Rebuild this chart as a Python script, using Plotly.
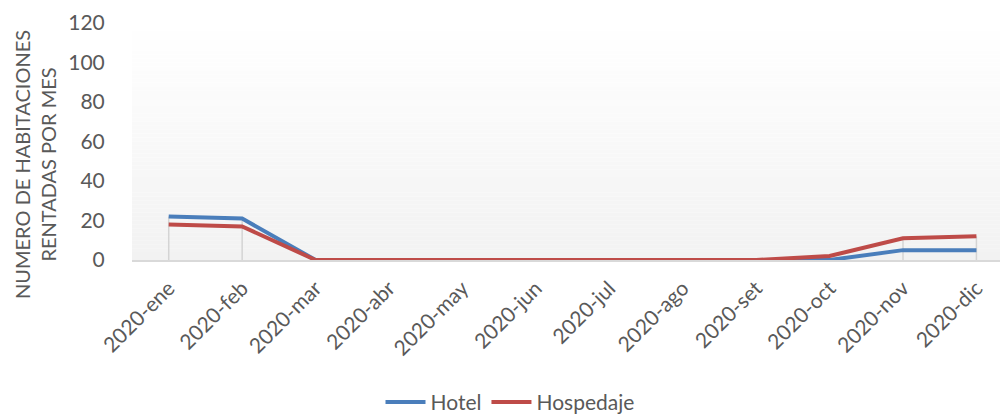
import plotly.graph_objects as go

meses = ["2020-ene", "2020-feb", "2020-mar", "2020-abr", "2020-may", "2020-jun",
         "2020-jul", "2020-ago", "2020-set", "2020-oct", "2020-nov", "2020-dic"]
hotel = [22, 21, 0, 0, 0, 0, 0, 0, 0, 0, 5, 5]
hospedaje = [18, 17, 0, 0, 0, 0, 0, 0, 0, 2, 11, 12]
y_ticks = [0, 20, 40, 60, 80, 100, 120]

FONT = "Lato"
GRAY = "#595959"

fig = go.Figure()

# drop lines (from max of the two series down to the axis)
dx, dy = [], []
for m, a, b in zip(meses, hotel, hospedaje):
    dx += [m, m, None]
    dy += [0, max(a, b), None]
fig.add_trace(go.Scatter(x=dx, y=dy, mode="lines", line=dict(color="#d4d4d4", width=1.5),
                         showlegend=False, hoverinfo="skip"))

fig.add_trace(go.Scatter(x=meses, y=hotel, name="Hotel", mode="lines",
                         line=dict(color="#4a7ebb", width=4)))
fig.add_trace(go.Scatter(x=meses, y=hospedaje, name="Hospedaje", mode="lines",
                         line=dict(color="#be4b48", width=4)))

# gradient background for plot area
shapes = []
N = 60
for i in range(N):
    t = (i + 0.5) / N
    c = round(255 - (255 - 242) * t)
    shapes.append(dict(type="rect", xref="paper", yref="paper", x0=0, x1=1,
                       y0=1 - (i + 1) / N, y1=1 - i / N, layer="below",
                       line=dict(width=0), fillcolor=f"rgb({c},{c},{c})"))

fig.update_layout(
    width=1000, height=410,
    margin=dict(l=124, r=0, t=15, b=158, autoexpand=False),
    paper_bgcolor="white", plot_bgcolor="rgba(0,0,0,0)",
    font=dict(family=FONT, color=GRAY, size=20),
    shapes=shapes,
    showlegend=True,
    legend=dict(orientation="h", xref="container", yref="container",
                x=0.502, y=0.038, xanchor="center", yanchor="middle",
                font=dict(size=21, color=GRAY), itemwidth=40),
    annotations=[dict(text="NUMERO DE HABITACIONES<br>RENTADAS POR MES",
                      xref="paper", yref="paper", x=-0.1107, y=0.401,
                      xanchor="center", yanchor="middle", textangle=-90,
                      showarrow=False, font=dict(size=20, color=GRAY))],
    xaxis=dict(type="category", categoryorder="array", categoryarray=meses,
               range=[-0.5, 11.43], showgrid=False, showline=True, automargin=False,
               linecolor="#d9d9d9", linewidth=1.5, tickangle=-45,
               ticks="outside", ticklen=6, tickcolor="rgba(0,0,0,0)",
               tickfont=dict(size=21, color=GRAY)),
    yaxis=dict(range=[0, 120], tickvals=y_ticks, showgrid=False, zeroline=False,
               showline=False, ticks="outside", ticklen=22, tickcolor="rgba(0,0,0,0)",
               automargin=False, tickfont=dict(size=21, color=GRAY)),
)

fig.write_html("out.html")
